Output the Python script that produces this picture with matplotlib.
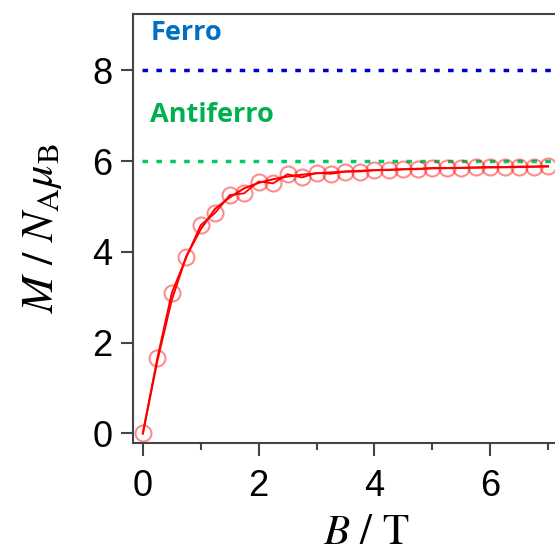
import matplotlib
matplotlib.use("Agg")
import matplotlib.pyplot as plt

plt.rcParams['font.family'] = ['Liberation Sans', 'DejaVu Sans']
plt.rcParams['mathtext.fontset'] = 'stix'

# measured magnetisation M / (N_A mu_B) vs field B (T)
field = [0.0, 0.25, 0.5, 0.75, 1.0, 1.25, 1.5, 1.75, 2.0, 2.25, 2.5, 2.75,
         3.0, 3.25, 3.5, 3.75, 4.0, 4.25, 4.5, 4.75, 5.0, 5.25, 5.5, 5.75,
         6.0, 6.25, 6.5, 6.75, 7.0]
magn = [0.0, 1.66, 3.10, 3.88, 4.59, 4.86, 5.25, 5.29, 5.55, 5.51, 5.71, 5.64,
        5.74, 5.72, 5.77, 5.77, 5.80, 5.80, 5.82, 5.82, 5.85, 5.85, 5.85, 5.86,
        5.87, 5.87, 5.88, 5.88, 5.89]

# simulated curve
fit_field = [0.0, 0.25, 0.5, 0.75, 1.0, 1.25, 1.5, 1.75, 2.0, 2.25, 2.5, 2.75,
             3.0, 3.5, 4.0, 4.5, 5.0, 5.5, 6.0, 6.5, 7.0]
fit_magn = [0.0, 1.60, 2.95, 3.90, 4.50, 4.95, 5.20, 5.40, 5.52, 5.60, 5.66, 5.70,
            5.73, 5.77, 5.80, 5.82, 5.84, 5.85, 5.86, 5.87, 5.88]

# saturation limits
ferro_level = 8
antiferro_level = 6

fig = plt.figure(figsize=(5.55, 5.56), dpi=100)
ax = fig.add_axes([133 / 555, 1 - 443 / 556, (599 - 133) / 555, (443 - 14) / 556])

ax.axhline(ferro_level, xmin=0.02, color='#0000cc', lw=2.5, ls=(0, (1.6, 2.4)))
ax.axhline(antiferro_level, xmin=0.02, color='#00cc66', lw=2.5, ls=(0, (1.6, 2.4)))

ax.plot(fit_field, fit_magn, color='red', lw=1.5)
ax.plot(field, magn, color='red', lw=1.3, marker='o', ms=11.5, mfc='none',
        mec=(1, 0, 0, 0.45), mew=1.5)

ax.text(0.13, 8.82, 'Ferro', color='#0070c0', fontsize=19.5, fontweight='bold',
        family=['Open Sans', 'DejaVu Sans'], va='center')
ax.text(0.13, 7.01, 'Antiferro', color='#00b050', fontsize=19.5, fontweight='bold',
        family=['Open Sans', 'DejaVu Sans'], va='center')

ax.set_xlim(-0.17, 7.88)
ax.set_ylim(-0.21, 9.24)
ax.set_xticks([0, 2, 4, 6])
ax.set_xticks([1, 3, 5, 7], minor=True)
ax.set_yticks([0, 2, 4, 6, 8])

ax.tick_params(axis='both', which='major', direction='out', length=9, width=1.5,
               color='#444444', labelsize=26, pad=6)
ax.tick_params(axis='x', which='major', pad=10)
ax.tick_params(axis='x', which='minor', direction='out', length=5, width=1.5,
               color='#444444')
for side in ['left', 'bottom', 'top']:
    ax.spines[side].set_linewidth(1.5)
    ax.spines[side].set_color('#444444')
ax.spines['right'].set_visible(False)

ax.set_xlabel(r'$B\ /\ \mathrm{T}$', fontsize=31, labelpad=6)
ax.set_ylabel(r'$M\ /\ N_\mathrm{A}\mu_\mathrm{B}$', fontsize=32, labelpad=20)

fig.savefig('out.png', dpi=100)
